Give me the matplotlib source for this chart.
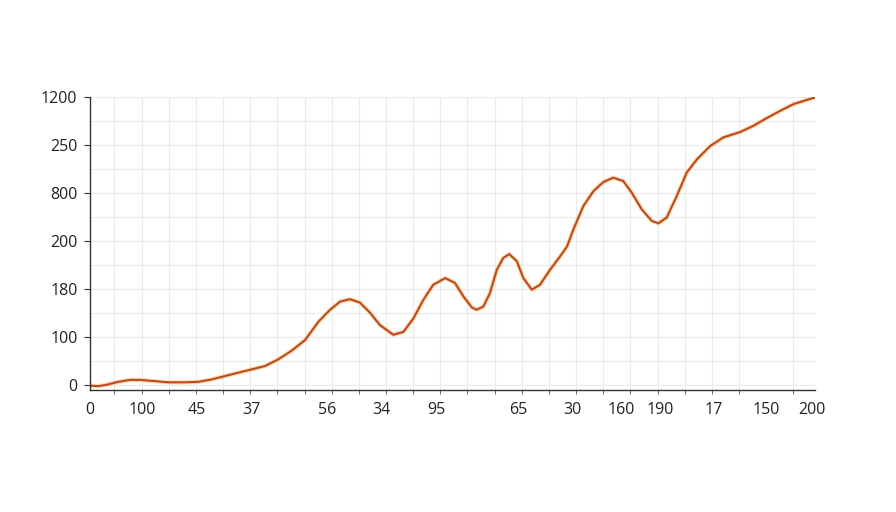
import matplotlib.pyplot as plt

# x in grid-column units, y in label-row units (the tick labels are not monotonic)
x_pos = [0.10, 0.41, 0.72, 1.14, 1.57, 1.94, 2.37, 2.98, 3.60, 4.09, 4.58, 5.07,
         5.56, 6.06, 6.55, 7.04, 7.53, 8.02, 8.51, 8.94, 9.31, 9.68, 10.04, 10.41,
         10.78, 11.27, 11.64, 12.01, 12.38, 12.74, 13.18, 13.54, 13.85, 14.16,
         14.34, 14.59, 14.83, 15.08, 15.32, 15.54, 15.82, 16.06, 16.37, 16.67,
         17.04, 17.41, 17.67, 17.90, 18.27, 18.64, 19.01, 19.37, 19.74, 20.05,
         20.42, 20.79, 21.03, 21.34, 21.71, 22.08, 22.45, 22.94, 23.43, 24.04,
         24.53, 25.02, 25.51, 26.00, 26.50, 26.80]
y_val = [-0.01, -0.02, 0.01, 0.07, 0.11, 0.11, 0.09, 0.06, 0.06, 0.07, 0.12, 0.19,
         0.26, 0.33, 0.40, 0.54, 0.72, 0.94, 1.32, 1.57, 1.74, 1.79, 1.72, 1.51,
         1.25, 1.05, 1.11, 1.39, 1.78, 2.09, 2.23, 2.13, 1.85, 1.62,
         1.57, 1.64, 1.92, 2.40, 2.65, 2.73, 2.58, 2.23, 1.99, 2.09,
         2.40, 2.68, 2.89, 3.24, 3.73, 4.04, 4.23, 4.32, 4.25, 4.01,
         3.66, 3.42, 3.37, 3.49, 3.94, 4.43, 4.70, 4.98, 5.16, 5.27,
         5.40, 5.56, 5.71, 5.85, 5.94, 5.99]

x_tick_pos = [0.1, 2.02, 4.04, 6.03, 8.83, 10.85, 12.84, 15.86, 17.88, 19.66, 21.09, 23.05, 25.0, 26.69]
x_tick_labels = ['0', '100', '45', '37', '56', '34', '95', '65', '30', '160', '190', '17', '150', '200']
y_tick_labels = ['0', '100', '180', '200', '800', '250', '1200']

plt.rcParams['font.family'] = ['Open Sans', 'DejaVu Sans']

fig = plt.figure(figsize=(8.96, 5.12), dpi=100)
ax = fig.add_axes([90 / 896, (512 - 390) / 512, 725 / 896, (390 - 97) / 512])

# soft orange halo under a darker core, like the reference stroke
ax.plot(x_pos, y_val, color='#f5a030', lw=3.2, alpha=0.35, solid_joinstyle='round', solid_capstyle='round')
ax.plot(x_pos, y_val, color='#bd4a1e', lw=1.5, solid_joinstyle='round', solid_capstyle='round')

ax.set_xlim(0.1, 26.8)
ax.set_ylim(-0.1, 6.0)

ax.set_xticks(range(1, 27), minor=True)
ax.set_xticks(x_tick_pos)
ax.set_xticklabels(x_tick_labels)
ax.set_yticks(range(len(y_tick_labels)))
ax.set_yticklabels(y_tick_labels)
ax.set_yticks([k + 0.5 for k in range(6)], minor=True)

ax.grid(True, which='minor', color='#ebebeb', lw=0.8)
ax.grid(True, which='major', axis='y', color='#ebebeb', lw=0.8)
ax.set_axisbelow(True)

for side in ['top', 'right']:
    ax.spines[side].set_visible(False)
for side in ['left', 'bottom']:
    ax.spines[side].set_color('#333333')
    ax.spines[side].set_linewidth(1.0)

ax.tick_params(axis='x', which='major', length=0, labelsize=11.5, labelcolor='#222222', pad=9)
ax.tick_params(axis='x', which='minor', length=3, color='#555555')
ax.tick_params(axis='y', which='major', length=4, color='#333333', labelsize=11.5, labelcolor='#222222', pad=5)
ax.tick_params(axis='y', which='minor', length=0)

fig.savefig('out.png', dpi=100)
